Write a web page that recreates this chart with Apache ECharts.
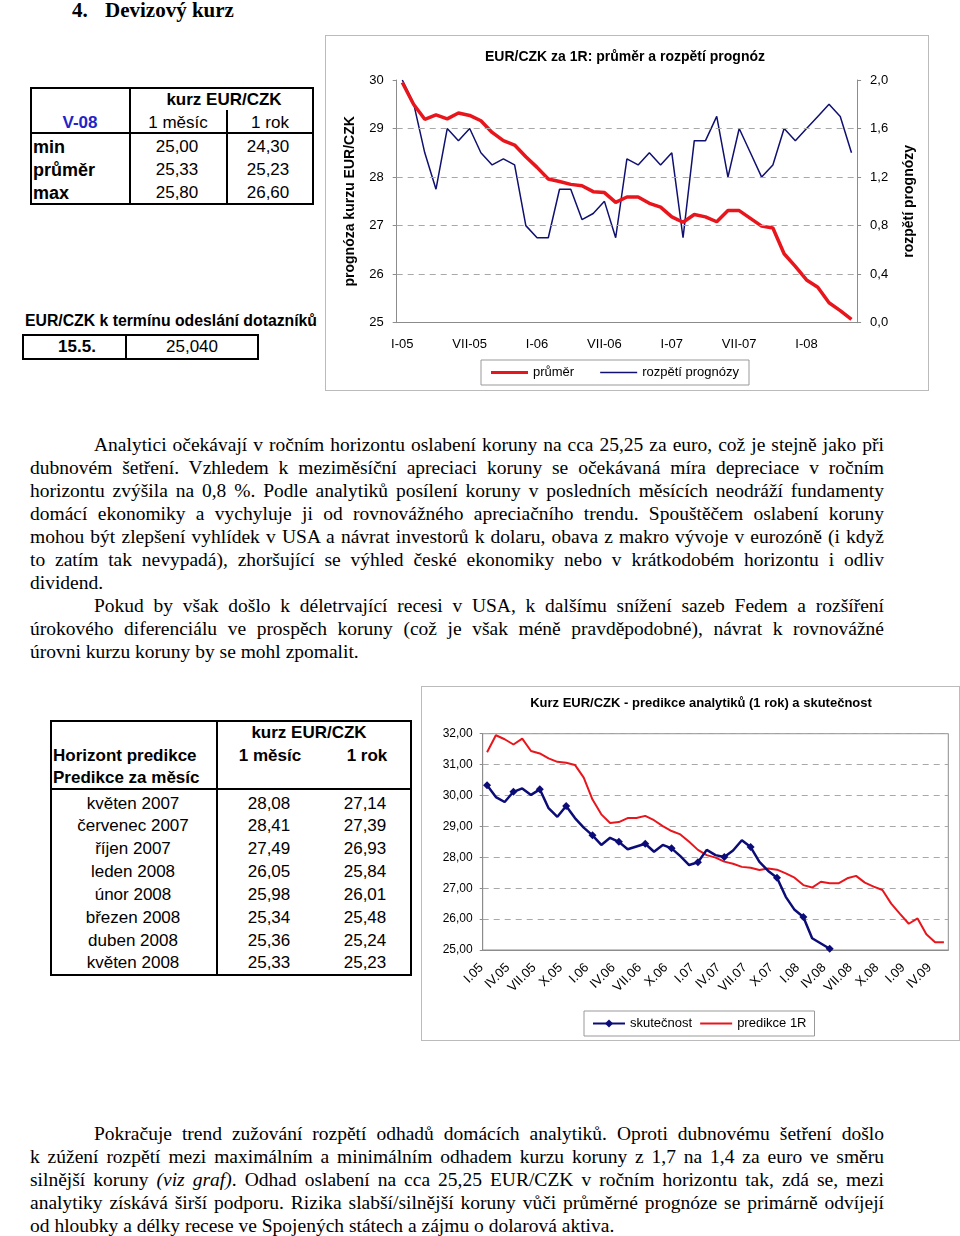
<!DOCTYPE html>
<html><head><meta charset="utf-8">
<script src="https://cdn.jsdelivr.net/npm/echarts/dist/echarts.min.js"></script>
<style>
html,body{margin:0;padding:0;background:#fff}
body{width:960px;height:1236px;position:relative;overflow:hidden;font-family:"Liberation Serif","Times New Roman",serif;color:#000}
.a{position:absolute;white-space:nowrap}
.ln{position:absolute;white-space:nowrap;font-size:19.5px;line-height:23px;text-align:justify;text-align-last:justify}
.ln.last{text-align:left;text-align-last:left}
.tb{font-family:"Liberation Sans",Arial,sans-serif}
.ctr{transform:translate(-50%,-50%)}
.lft{transform:translateY(-50%)}
.box{position:absolute;border:2px solid #000;box-sizing:border-box}
.vl{position:absolute;background:#000}
#c1{position:absolute;left:325px;top:35px;width:604px;height:356px;border:1px solid #bbb;box-sizing:border-box}
#c2{position:absolute;left:421px;top:686px;width:539px;height:355px;border:1px solid #bbb;box-sizing:border-box}
</style></head>
<body>
<div class="a" style="left:72px;top:-2px;font-size:21px;font-weight:bold;">4.</div>
<div class="a" style="left:105px;top:-2px;font-size:21px;font-weight:bold;">Devizový kurz</div>

<div id="t1"></div>
<div id="t2"></div>
<div id="t3"></div>

<div id="c1"></div>
<div id="c2"></div>

<div class="ln" data-w="790" style="left:94px;top:433px">Analytici očekávají v ročním horizontu oslabení koruny na cca 25,25 za euro, což je stejně jako při</div>
<div class="ln" data-w="854" style="left:30px;top:456px">dubnovém šetření. Vzhledem k&nbsp;meziměsíční apreciaci koruny se očekávaná míra depreciace v&nbsp;ročním</div>
<div class="ln" data-w="854" style="left:30px;top:479px">horizontu zvýšila na 0,8 %. Podle analytiků posílení koruny v&nbsp;posledních měsících neodráží fundamenty</div>
<div class="ln" data-w="854" style="left:30px;top:502px">domácí ekonomiky a vychyluje ji od rovnovážného apreciačního trendu. Spouštěčem oslabení koruny</div>
<div class="ln" data-w="854" style="left:30px;top:525px">mohou být zlepšení vyhlídek v&nbsp;USA a návrat investorů k&nbsp;dolaru, obava z makro vývoje v&nbsp;eurozóně (i když</div>
<div class="ln" data-w="854" style="left:30px;top:548px">to zatím tak nevypadá), zhoršující se výhled české ekonomiky nebo v&nbsp;krátkodobém horizontu i odliv</div>
<div class="ln last" style="left:30px;top:571px">dividend.</div>
<div class="ln" data-w="790" style="left:94px;top:594px">Pokud by však došlo k&nbsp;déletrvající recesi v&nbsp;USA, k dalšímu snížení sazeb Fedem a rozšíření</div>
<div class="ln" data-w="854" style="left:30px;top:617px">úrokového diferenciálu ve prospěch koruny (což je však méně pravděpodobné), návrat k rovnovážné</div>
<div class="ln last" style="left:30px;top:640px">úrovni kurzu koruny by se mohl zpomalit.</div>

<div class="ln" data-w="790" style="left:94px;top:1122px">Pokračuje trend zužování rozpětí odhadů domácích analytiků. Oproti dubnovému šetření došlo</div>
<div class="ln" data-w="854" style="left:30px;top:1145px">k&nbsp;zúžení rozpětí mezi maximálním a minimálním odhadem kurzu koruny z&nbsp;1,7 na 1,4 za euro ve směru</div>
<div class="ln" data-w="854" style="left:30px;top:1168px">silnější koruny <i>(viz graf)</i>. Odhad oslabení na cca 25,25 EUR/CZK v&nbsp;ročním horizontu tak, zdá se, mezi</div>
<div class="ln" data-w="854" style="left:30px;top:1191px">analytiky získává širší podporu. Rizika slabší/silnější koruny vůči průměrné prognóze se primárně odvíjejí</div>
<div class="ln last" style="left:30px;top:1214px">od hloubky a délky recese ve Spojených státech a zájmu o dolarová aktiva.</div>

<script>
// ---------- data ----------
const topCats = ['I-05','II-05','III-05','IV-05','V-05','VI-05','VII-05','VIII-05','IX-05','X-05','XI-05','XII-05',
  'I-06','II-06','III-06','IV-06','V-06','VI-06','VII-06','VIII-06','IX-06','X-06','XI-06','XII-06',
  'I-07','II-07','III-07','IV-07','V-07','VI-07','VII-07','VIII-07','IX-07','X-07','XI-07','XII-07',
  'I-08','II-08','III-08','IV-08','V-08'];
const prumer = [29.95,29.5,29.19,29.28,29.2,29.32,29.27,29.16,28.92,28.75,28.66,28.42,28.2,27.96,27.91,27.85,27.82,27.7,27.68,27.48,27.59,27.59,27.46,27.38,27.18,27.07,27.23,27.18,27.08,27.31,27.31,27.15,26.99,26.95,26.42,26.16,25.88,25.73,25.41,25.25,25.07];
const rozpeti = [2.0,1.81,1.4,1.1,1.6,1.5,1.6,1.4,1.3,1.35,1.3,0.8,0.7,0.7,1.1,1.1,0.85,0.9,1.0,0.7,1.35,1.3,1.4,1.3,1.4,0.7,1.5,1.5,1.7,1.2,1.6,1.4,1.2,1.3,1.6,1.5,1.6,1.7,1.8,1.7,1.4];
const leftTicksGrid = [26,27,28,29];

const botCats = ['I.05','II.05','III.05','IV.05','V.05','VI.05','VII.05','VIII.05','IX.05','X.05','XI.05','XII.05',
  'I.06','II.06','III.06','IV.06','V.06','VI.06','VII.06','VIII.06','IX.06','X.06','XI.06','XII.06',
  'I.07','II.07','III.07','IV.07','V.07','VI.07','VII.07','VIII.07','IX.07','X.07','XI.07','XII.07',
  'I.08','II.08','III.08','IV.08','V.08','VI.08','VII.08','VIII.08','IX.08','X.08','XI.08','XII.08',
  'I.09','II.09','III.09','IV.09','V.09'];
const skutecnost = [30.33,29.95,29.79,30.12,30.23,30.02,30.2,29.59,29.31,29.66,29.27,28.96,28.71,28.4,28.63,28.5,28.26,28.35,28.44,28.18,28.4,28.29,28.04,27.75,27.84,28.24,28.07,28.01,28.22,28.55,28.33,27.85,27.56,27.34,26.72,26.3,26.07,25.38,25.21,25.04];
const predikce1R = [31.4,31.95,31.82,31.65,31.84,31.44,31.36,31.2,31.09,31.06,30.99,30.58,29.87,29.39,29.11,29.14,29.27,29.27,29.34,29.2,29.01,28.85,28.74,28.5,28.24,28.07,27.99,27.86,27.79,27.69,27.66,27.59,27.64,27.6,27.48,27.34,27.1,27.02,27.21,27.16,27.16,27.32,27.4,27.18,27.05,26.94,26.5,26.17,25.85,26.02,25.51,25.25,25.25];

// tables
const t1Rows = ['min','průměr','max'];
const t1Mesic = ['25,00','25,33','25,80'];
const t1Rok = ['24,30','25,23','26,60'];
const t2Datum = '15.5.';
const t2Kurz = '25,040';
const t3Mesice = ['květen 2007','červenec 2007','říjen 2007','leden 2008','únor 2008','březen 2008','duben 2008','květen 2008'];
const t3Mesic = ['28,08','28,41','27,49','26,05','25,98','25,34','25,36','25,33'];
const t3Rok = ['27,14','27,39','26,93','25,84','26,01','25,48','25,24','25,23'];

// ---------- tables (HTML) ----------
function txt(s, x, y, cls, style){ return `<div class="a tb ${cls}" style="left:${x}px;top:${y}px;${style||''}">${s}</div>`; }
let h = '';
h += `<div class="box" style="left:30px;top:87px;width:284px;height:118px;border-width:2px"></div>`;
h += `<div class="vl" style="left:129px;top:87px;width:2px;height:118px"></div>`;
h += `<div class="vl" style="left:226px;top:110px;width:2px;height:95px"></div>`;
h += `<div class="vl" style="left:30px;top:132px;width:284px;height:2px"></div>`;
h += txt('kurz EUR/CZK',224,100,'ctr','font-size:17px;font-weight:bold');
h += txt('V-08',80,123,'ctr','font-size:17px;font-weight:bold;color:#2323c8');
h += txt('1 měsíc',178,123,'ctr','font-size:17px');
h += txt('1 rok',270,123,'ctr','font-size:17px');
t1Rows.forEach((r,i)=>{
  const y = 147 + i*23;
  h += txt(r,33,y,'lft','font-size:18px;font-weight:bold');
  h += txt(t1Mesic[i],177,y,'ctr','font-size:17px');
  h += txt(t1Rok[i],268,y,'ctr','font-size:17px');
});
document.getElementById('t1').innerHTML = h;

h = '';
h += txt('EUR/CZK k termínu odeslání dotazníků',25,312,'fit','font-size:16px;font-weight:bold" data-w="292');
h += `<div class="box" style="left:22px;top:334px;width:237px;height:26px"></div>`;
h += `<div class="vl" style="left:125px;top:334px;width:2px;height:26px"></div>`;
h += txt(t2Datum,77,347,'ctr','font-size:17px;font-weight:bold');
h += txt(t2Kurz,192,347,'ctr','font-size:17px');
document.getElementById('t2').innerHTML = h;

h = '';
h += `<div class="box" style="left:50px;top:720px;width:362px;height:256px"></div>`;
h += `<div class="vl" style="left:216px;top:720px;width:2px;height:256px"></div>`;
h += `<div class="vl" style="left:50px;top:788px;width:362px;height:2px"></div>`;
h += txt('kurz EUR/CZK',309,733,'ctr','font-size:17px;font-weight:bold');
h += txt('Horizont predikce',53,756,'lft','font-size:17px;font-weight:bold');
h += txt('Predikce za měsíc',53,778,'lft','font-size:17px;font-weight:bold');
h += txt('1 měsíc',270,756,'ctr','font-size:17px;font-weight:bold');
h += txt('1 rok',367,756,'ctr','font-size:17px;font-weight:bold');
t3Mesice.forEach((m,i)=>{
  const y = 803.5 + i*22.85;
  h += txt(m,133,y,'ctr','font-size:17px');
  h += txt(t3Mesic[i],269,y,'ctr','font-size:17px');
  h += txt(t3Rok[i],365,y,'ctr','font-size:17px');
});
document.getElementById('t3').innerHTML = h;

// fit text widths
document.querySelectorAll('.fit').forEach(el=>{
  const w = +el.dataset.w; const nat = el.getBoundingClientRect().width;
  el.style.transformOrigin='0 0'; el.style.transform=`scaleX(${w/nat})`;
});
document.querySelectorAll('.ln').forEach(el=>{
  if (el.classList.contains('last')) return;
  const w = +el.dataset.w;
  const nat = el.getBoundingClientRect().width;
  if (nat > w) { el.style.transformOrigin='0 0'; el.style.transform=`scaleX(${w/nat})`; el.style.textAlignLast='left'; el.style.textAlign='left'; }
  else { el.style.whiteSpace='normal'; el.style.width = w+'px'; }
});

// ---------- charts ----------
const ff = '"Liberation Sans", Arial, sans-serif';
const gray = '#8c8c8c';
const comma = (d)=> (v)=> v.toFixed(d).replace('.',',');
// legend line icons: thin bar with invisible corner points so the bar keeps its thickness
const barIcon = (w, t)=> `path://M0,0h0.01v0.01h-0.01z M0,${5-t/2}h${w}v${t}h-${w}z M0,9.99h0.01v0.01h-0.01z`;

const c1 = echarts.init(document.getElementById('c1'), null, {renderer:'canvas'});
c1.setOption({
  animation:false,
  textStyle:{fontFamily:ff,color:'#000'},
  graphic:[{type:'text', x:299, y:21, style:{text:'EUR/CZK za 1R: průměr a rozpětí prognóz', font:'bold 14px '+ff, fill:'#000', textAlign:'center', textVerticalAlign:'middle'}}],
  grid:{left:70.7, top:44, width:460.4, height:242.7},
  legend:{left:155, top:324, padding:[6,10,6,10], borderColor:'#999', borderWidth:1, itemWidth:37, itemHeight:10, itemGap:26,
    textStyle:{fontSize:13, fontFamily:ff, color:'#000'},
    data:[{name:'průměr', icon:barIcon(37,3)}, {name:'rozpětí prognózy', icon:barIcon(37,1.5)}]},
  xAxis:{type:'category', data:topCats, boundaryGap:true,
    axisLine:{lineStyle:{color:gray}}, axisTick:{interval:5, length:5, lineStyle:{color:gray}},
    axisLabel:{interval:5, fontSize:13, margin:15, color:'#000', fontFamily:ff}},
  yAxis:[
    {type:'value', min:25, max:30, interval:1, position:'left',
     axisLine:{show:true, lineStyle:{color:gray}}, axisTick:{show:true, length:4, lineStyle:{color:gray}},
     axisLabel:{fontSize:13, margin:13, color:'#000', fontFamily:ff}, splitLine:{show:false},
     name:'prognóza kurzu EUR/CZK', nameLocation:'middle', nameGap:40, nameRotate:90,
     nameTextStyle:{fontSize:14, fontWeight:'bold', fontFamily:ff, color:'#000'}},
    {type:'value', min:0, max:2, interval:0.4, position:'right',
     axisLine:{show:true, lineStyle:{color:gray}}, axisTick:{show:true, length:4, lineStyle:{color:gray}},
     axisLabel:{fontSize:13, margin:13, color:'#000', fontFamily:ff, formatter:comma(1)}, splitLine:{show:false},
     name:'rozpětí prognózy', nameLocation:'middle', nameGap:45, nameRotate:90,
     nameTextStyle:{fontSize:14, fontWeight:'bold', fontFamily:ff, color:'#000'}}
  ],
  series:[
    {name:'průměr', type:'line', yAxisIndex:0, data:prumer, symbol:'none', z:4,
     lineStyle:{color:'#e8161c', width:3.5}, itemStyle:{color:'#e8161c'},
     markLine:{silent:true, symbol:'none', label:{show:false}, lineStyle:{color:'#a8a8a8', type:[6,5], width:1},
       data:leftTicksGrid.map(v=>({yAxis:v}))}},
    {name:'rozpětí prognózy', type:'line', yAxisIndex:1, data:rozpeti, symbol:'none', z:3,
     lineStyle:{color:'#101070', width:1.5}, itemStyle:{color:'#101070'}}
  ]
});

const c2 = echarts.init(document.getElementById('c2'), null, {renderer:'canvas'});
c2.setOption({
  animation:false,
  textStyle:{fontFamily:ff,color:'#000'},
  graphic:[{type:'text', x:279, y:16, style:{text:'Kurz EUR/CZK - predikce analytiků (1 rok) a skutečnost', font:'bold 13px '+ff, fill:'#000', textAlign:'center', textVerticalAlign:'middle'}}],
  grid:{left:60.7, top:46.7, width:465.6, height:216.3, show:true, borderColor:gray, borderWidth:1},
  legend:{left:162, top:324, padding:[6,8,6,8], borderColor:'#999', borderWidth:1, itemWidth:32, itemHeight:10, itemGap:8,
    textStyle:{fontSize:13, fontFamily:ff, color:'#000'},
    data:[{name:'skutečnost'}, {name:'predikce 1R', icon:barIcon(32,2)}]},
  xAxis:{type:'category', data:botCats, boundaryGap:true,
    axisLine:{lineStyle:{color:gray}}, axisTick:{interval:2, length:4, lineStyle:{color:gray}},
    axisLabel:{interval:2, rotate:45, fontSize:13, margin:10, padding:[0,8,0,0], color:'#000', fontFamily:ff}},
  yAxis:{type:'value', min:25, max:32, interval:1,
    axisLine:{show:true, lineStyle:{color:gray}}, axisTick:{show:true, length:3, lineStyle:{color:gray}},
    axisLabel:{fontSize:12, margin:10, color:'#000', fontFamily:ff, formatter:comma(2)},
    splitLine:{show:true, lineStyle:{color:'#a8a8a8', type:[6,5], width:1}}},
  series:[
    {name:'skutečnost', type:'line', data:skutecnost, symbol:'diamond', symbolSize:8, z:4,
     lineStyle:{color:'#0c0c78', width:2.5}, itemStyle:{color:'#0c0c78'}},
    {name:'predikce 1R', type:'line', data:predikce1R, symbol:'none', z:3,
     lineStyle:{color:'#e8161c', width:2}, itemStyle:{color:'#e8161c'}}
  ]
});
</script>
</body></html>
